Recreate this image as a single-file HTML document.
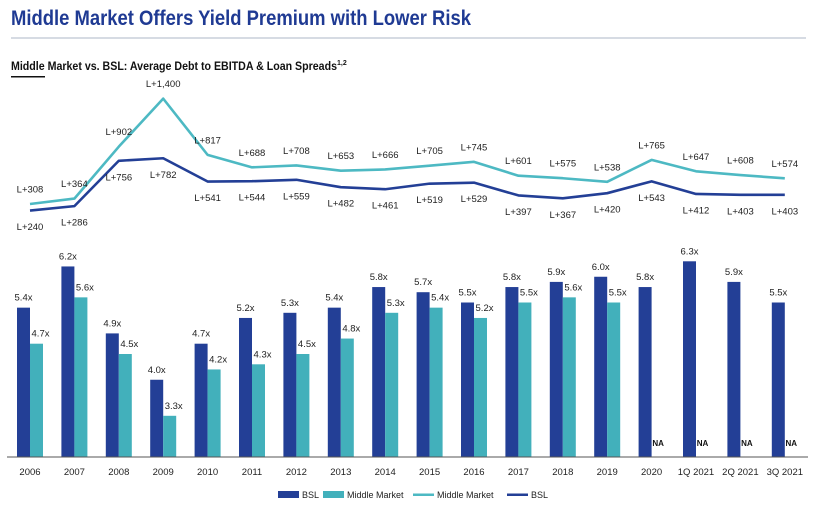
<!DOCTYPE html>
<html><head><meta charset="utf-8">
<style>
body{margin:0;background:#fff;width:813px;height:513px;overflow:hidden;font-family:"Liberation Sans",sans-serif}
svg text{font-family:"Liberation Sans",sans-serif}
</style></head>
<body>
<svg id="c" width="813" height="513">
<text x="11" y="25" font-size="21" font-weight="bold" fill="#1f3a93" textLength="460" lengthAdjust="spacingAndGlyphs">Middle Market Offers Yield Premium with Lower Risk</text>
<rect x="11" y="37" width="795" height="2" fill="#d6dbe3"/>
<text x="11" y="70" font-size="11.5" font-weight="bold" fill="#111"><tspan textLength="326" lengthAdjust="spacingAndGlyphs">Middle Market vs. BSL: Average Debt to EBITDA &amp; Loan Spreads</tspan><tspan font-size="7" dy="-5">1,2</tspan></text>
<rect x="11" y="76" width="34" height="1.5" fill="#111"/>
<g id="g"></g>
</svg>
<script>
const categories=["2006","2007","2008","2009","2010","2011","2012","2013","2014","2015","2016","2017","2018","2019","2020","1Q 2021","2Q 2021","3Q 2021"];
const bslLeverage=[5.4,6.2,4.9,4.0,4.7,5.2,5.3,5.4,5.8,5.7,5.5,5.8,5.9,6.0,5.8,6.3,5.9,5.5];
const mmLeverage=[4.7,5.6,4.5,3.3,4.2,4.3,4.5,4.8,5.3,5.4,5.2,5.5,5.6,5.5,null,null,null,null];
const mmSpread=[308,364,902,1400,817,688,708,653,666,705,745,601,575,538,765,647,608,574];
const bslSpread=[240,286,756,782,541,544,559,482,461,519,529,397,367,420,543,412,403,403];
const BSL="#233f96",MM="#42b0bb",MML="#4db9c3";
const g=document.getElementById('g');
const NS="http://www.w3.org/2000/svg";
function mk(t,a){const e=document.createElementNS(NS,t);for(const k in a)e.setAttribute(k,a[k]);g.appendChild(e);return e;}
const xC=i=>30+i*44.4;
const base=457;
const yBar=v=>base-(v-2.5)*51.5;
const ySp=v=>204-(v-308)*0.0965;
const bw=13;
const FS=9.5;
categories.forEach((c,i)=>{
  const cx=xC(i);
  let b=mk('rect',{x:cx-bw,y:yBar(bslLeverage[i]),width:bw,height:base-yBar(bslLeverage[i]),fill:BSL});
  
  
  let t=mk('text',{x:cx-bw/2,y:yBar(bslLeverage[i])-7,'font-size':FS,'text-anchor':'middle',fill:'#222'});
  t.textContent=bslLeverage[i].toFixed(1)+'x';
  
  
  if(mmLeverage[i]!=null){
    let m=mk('rect',{x:cx,y:yBar(mmLeverage[i]),width:bw,height:base-yBar(mmLeverage[i]),fill:MM});
    
    
    let u=mk('text',{x:cx+bw/2+4,y:yBar(mmLeverage[i])-7,'font-size':FS,'text-anchor':'middle',fill:'#222'});
    u.textContent=mmLeverage[i].toFixed(1)+'x';
    
    
  }else{
    let u=mk('text',{x:cx+bw/2,y:base-11,'font-size':8,'font-weight':'bold','text-anchor':'middle',fill:'#111'});
    u.textContent='NA';
    
    
  }
  let x=mk('text',{x:cx,y:475,'font-size':FS,'text-anchor':'middle',fill:'#222'});
  x.textContent=c;
  
  
});
let ax=mk('line',{x1:7,x2:808,y1:base,y2:base,stroke:'#555','stroke-width':1});


function line(arr,col,name,off){
  const p=mk('polyline',{points:arr.map((v,i)=>xC(i)+','+ySp(v)).join(' '),fill:'none',stroke:col,'stroke-width':2.6,'stroke-linejoin':'round'});
  
  
  arr.forEach((v,i)=>{
    const t=mk('text',{x:xC(i),y:ySp(v)+off+3.5,'font-size':FS,'text-anchor':'middle',fill:'#222'});
    t.textContent='L+'+(v>=1000?Math.floor(v/1000)+','+String(v%1000).padStart(3,'0'):v);
    
    
  });
}
line(mmSpread,MML,'mm-spread-line',-15);
line(bslSpread,BSL,'bsl-spread-line',16);
const L=[[278,'rect',BSL,'BSL'],[323,'rect',MM,'Middle Market'],[413,'line',MML,'Middle Market'],[507,'line',BSL,'BSL']];
L.forEach(([x,k,col,lab])=>{
  let s=k=='rect'?mk('rect',{x:x,y:491,width:21,height:7,fill:col}):mk('rect',{x:x,y:493.5,width:21,height:2.5,fill:col});
  
  
  let t=mk('text',{x:x+24,y:498,'font-size':9,fill:'#222'});
  t.textContent=lab;
  
  
});
</script>
</body></html>
